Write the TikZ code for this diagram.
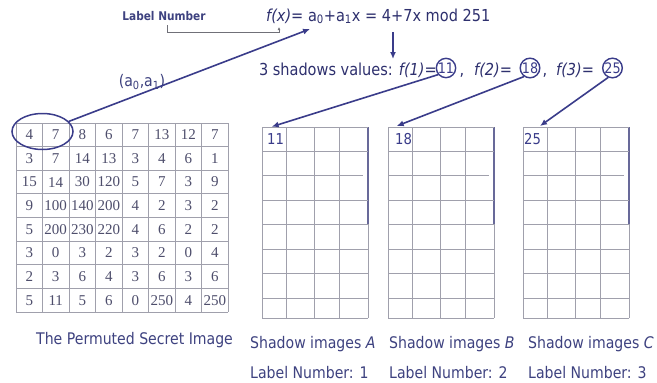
\documentclass[tikz,border=0pt]{standalone}
\usepackage{fontspec}
\newfontfamily\tah{DejaVu Sans}[FakeStretch=0.88]
\newfontfamily\tms{Liberation Serif}
\usetikzlibrary{arrows.meta,shapes.geometric,calc}
\definecolor{navy}{RGB}{58,60,138}
\definecolor{txt}{RGB}{62,66,128}
\definecolor{gridc}{RGB}{160,160,172}
\definecolor{numc}{RGB}{78,78,108}
\begin{document}
\begin{tikzpicture}[x=1pt,y=-1pt,
  gline/.style={draw=gridc,line width=0.9pt},
  arr/.style={draw=navy,line width=1.6pt,-{Latex[length=7pt,width=6pt]}},
  num/.style={font=\tms\fontsize{15}{15}\selectfont,text=numc,inner sep=0pt},
  lab/.style={font=\tah\fontsize{16}{18}\selectfont,text=txt,inner sep=0pt},
  big/.style={font=\tah\fontsize{16.5}{18}\selectfont,text=navy!80!black,inner sep=0pt},
  circ/.style={circle,draw=navy,line width=1.4pt,minimum size=19pt,inner sep=0pt,font=\tah\fontsize{14.5}{14.5}\selectfont,text=navy},
  cellt/.style={font=\tah\fontsize{15}{15}\selectfont,text=navy,inner sep=0pt}
]
\fill[white] (0,0) rectangle (657,383);
\useasboundingbox (0,0) rectangle (657,383);

% ---------- left grid ----------
\foreach \i in {0,...,8} \draw[gline] (16+26.5*\i,123) -- (16+26.5*\i,312);
\foreach \j in {0,...,8} \draw[gline] (16,123+23.625*\j) -- (228,123+23.625*\j);
\foreach \rowvals [count=\r] in {{4,7,8,6,7,13,12,7},{3,7,14,13,3,4,6,1},{15,14,30,120,5,7,3,9},{9,100,140,200,4,2,3,2},{5,200,230,220,4,6,2,2},{3,0,3,2,3,2,0,4},{2,3,6,4,3,6,3,6},{5,11,5,6,0,250,4,250}}{
  \foreach \v [count=\c] in \rowvals {
    \node[num] (n\r-\c) at (16+26.5*\c-13.25,123+23.625*\r-11.8) {\v};
  }
}
\node[ellipse,draw=navy,line width=1.5pt,minimum width=61pt,minimum height=36pt,inner sep=0pt] (ell) at (42.5,131.5) {};

% ---------- shadow grids ----------
\foreach \L/\nm/\val/\tx in {262/s1/11/267,388/s2/18/395,523/s3/25/524}{
  \foreach \cx in {0,24.5,52.5,77.5} \draw[gline] (\L+\cx,127) -- (\L+\cx,318.3);
  \draw[gline] (\L+106,224.3) -- (\L+106,318.3);
  \draw[draw=navy!55!gridc,line width=1.1pt] (\L+106,127) -- (\L+106,224.3);
  \foreach \ry in {127,151.7,200,224.3,249,273.3,298.3,318.3} \draw[gline] (\L,\ry) -- (\L+106,\ry);
  \draw[gline] (\L,175.7) -- (\L+101,175.7);
  \node[cellt,anchor=west] (\nm) at (\tx,139.5) {\val};
}

% ---------- top texts ----------
\node[font=\tah\bfseries\fontsize{12}{12}\selectfont,text=txt,inner sep=0pt] (ln) at (164,16) {Label Number};
\node[big,anchor=base west] (fx) at (266,21) {\textit{f(x)}= a\textsubscript{0}+a\textsubscript{1}x = 4+7x mod 251};
\coordinate (lb) at (167,25);
\coordinate (lx) at (279,27);
\draw[draw=gridc!70!black,line width=0.8pt,-{Latex[length=3pt,width=3pt]}] (lb) -- ++(0,7) -| (lx);

\node[lab] (a01) at (142,82) {(a\textsubscript{0},a\textsubscript{1})};
\coordinate (ftip) at (310,29);
\draw[arr] (ell) -- (ftip);

\coordinate (d1) at (393,32);
\coordinate (d2) at (393,59);
\draw[draw=navy,line width=1.4pt,-{Latex[length=7pt,width=6pt]}] (d1) -- (d2);

\node[big,anchor=base east] (sv) at (437,75) {3 shadows values: \textit{f(1)=}};
\node[circ] (c1) at (446,68) {11};
\node[big,anchor=base] (cm1) at (462,75) {,};
\node[big,anchor=base west] (f2) at (474,75) {\textit{f(2)=}};
\node[circ] (c2) at (530,68) {18};
\node[big,anchor=base] (cm2) at (545,75) {,};
\node[big,anchor=base west] (f3) at (556,75) {\textit{f(3)=}};
\node[circ] (c3) at (612.5,68) {25};

\coordinate (t1) at (271.7,126.7);
\coordinate (t2) at (396.7,126);
\coordinate (t3) at (540,126);
\draw[arr] (c1.220) -- (t1);
\draw[arr] (c2.235) -- (t2);
\draw[arr] (c3.245) -- (t3);

% ---------- bottom labels ----------
\node[lab,anchor=base west] (perm) at (36,344.5) {The Permuted Secret Image};
\node[lab,anchor=base west] (sa) at (250,348.5) {Shadow images \textit{A}};
\node[lab,anchor=base west] (sb) at (389,348.5) {Shadow images \textit{B}};
\node[lab,anchor=base west] (sc) at (528,348.5) {Shadow images \textit{C}};
\node[lab,anchor=base west] (la) at (250,378) {Label Number: 1};
\node[lab,anchor=base west] (lbn) at (389,378) {Label Number: 2};
\node[lab,anchor=base west] (lc) at (528,378) {Label Number: 3};
\end{tikzpicture}
\end{document}
